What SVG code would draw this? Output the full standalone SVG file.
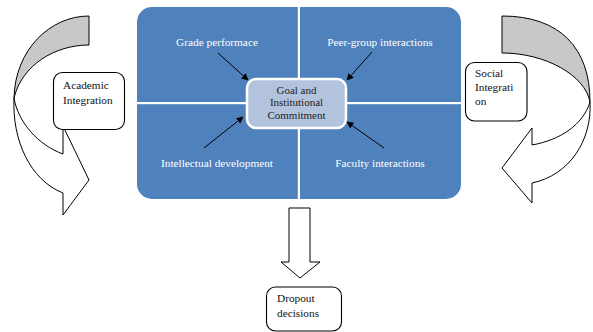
<svg xmlns="http://www.w3.org/2000/svg" width="593" height="332" viewBox="0 0 593 332">
  <defs>
    <marker id="ah" viewBox="0 0 10 10" refX="9" refY="5" markerWidth="7" markerHeight="7" markerUnits="userSpaceOnUse" orient="auto">
      <path d="M0,0 L10,5 L0,10 Z" fill="#000"/>
    </marker>
  </defs>
  <style>
    .shape { fill: #fff; stroke: #000; stroke-width: 1; stroke-linejoin: miter; }
    .back { fill: #c8c8c8; stroke: #000; stroke-width: 1; }
    .box { fill: #fff; stroke: #000; stroke-width: 1.1; }
    .lbl { font-family: "Liberation Serif", "Times New Roman", serif; font-size: 11.3px; fill: #111; }
    .wlbl { font-family: "Liberation Serif", "Times New Roman", serif; font-size: 11.3px; fill: #fff; text-anchor: middle; }
    .clbl { font-family: "Liberation Serif", "Times New Roman", serif; font-size: 11px; fill: #222; text-anchor: middle; }
    .conn { stroke: #000; stroke-width: 1; fill: none; marker-end: url(#ah); }
  </style>
  <rect width="593" height="332" fill="#fff"/>

  <!-- Left curved arrow -->
  <g id="left-curved-arrow">
    <path class="back" d="M89,16 C50,16 15,50 14,98 C22,65 55,45 89,45 Z"/>
    <path class="shape" d="M14,98 C12,140 30,180 63,193 L63,215 L89,180 L63,126 L63,154 C38,145 18,122 14,98 Z"/>
  </g>

  <!-- Right curved arrow -->
  <g id="right-curved-arrow">
    <path class="back" d="M502,16 C560,16 590,48 590,102 C585,75 545,53 502,53 Z"/>
    <path class="shape" d="M590,102 C592,140 570,175 532,183 L532,203 L502,168 L532,128 L532,145 C560,140 583,125 590,102 Z"/>
  </g>

  <!-- Central matrix -->
  <g id="matrix">
    <rect x="137" y="7" width="324" height="192" rx="15" fill="#4f81bd"/>
    <rect x="137" y="102" width="324" height="2.2" fill="#fff"/>
    <rect x="297.8" y="7" width="2.2" height="192" fill="#fff"/>
  </g>
  <g id="grade-performace"><text class="wlbl" x="217" y="46">Grade performace</text></g>
  <g id="peer-group"><text class="wlbl" x="380" y="46">Peer-group interactions</text></g>
  <g id="intellectual"><text class="wlbl" x="217" y="167">Intellectual development</text></g>
  <g id="faculty"><text class="wlbl" x="380" y="167">Faculty interactions</text></g>

  <g id="goal">
    <rect x="247" y="79" width="99" height="49" rx="9" fill="#b3c3de" stroke="#fff" stroke-width="2.5"/>
    <text class="clbl" x="296.5" y="93.5">Goal and</text>
    <text class="clbl" x="296.5" y="106">Institutional</text>
    <text class="clbl" x="296.5" y="118.5">Commitment</text>
  </g>

  <!-- Side boxes -->
  <g id="academic">
    <rect class="box" x="53.5" y="72.5" width="71" height="57" rx="9"/>
    <text class="lbl" x="63" y="88.5">Academic</text>
    <text class="lbl" x="63" y="103.5">Integration</text>
  </g>
  <g id="social">
    <rect class="box" x="465.5" y="62.5" width="61.5" height="58.5" rx="9"/>
    <text class="lbl" x="475" y="77">Social</text>
    <text class="lbl" x="475" y="91">Integrati</text>
    <text class="lbl" x="475" y="105">on</text>
  </g>

  <!-- Down arrow -->
  <g id="down-arrow">
    <path class="shape" d="M289,208 L310,208 L310,262 L320,262 L300,278 L281,262 L289,262 Z"/>
  </g>

  <g id="dropout">
    <rect class="box" x="266.5" y="287" width="75" height="44" rx="9"/>
    <text class="lbl" x="277" y="302">Dropout</text>
    <text class="lbl" x="277" y="317">decisions</text>
  </g>

  <!-- Connectors -->
  <g id="connectors">
    <line class="conn" x1="218" y1="53" x2="248" y2="80"/>
    <line class="conn" x1="372" y1="52" x2="347" y2="80"/>
    <line class="conn" x1="204" y1="148" x2="243" y2="117"/>
    <line class="conn" x1="384" y1="148" x2="347" y2="122"/>
  </g>
</svg>
